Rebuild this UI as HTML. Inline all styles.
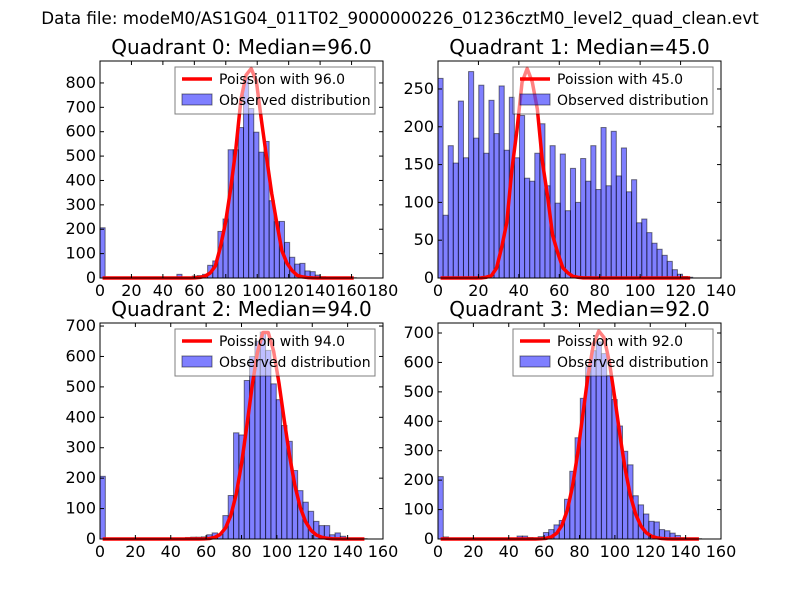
<!DOCTYPE html>
<html><head><meta charset="utf-8"><style>
body{margin:0;background:#fff;}
svg{display:block;font-family:"DejaVu Sans","Liberation Sans",sans-serif;}
</style></head><body>
<svg id="chart" width="800" height="600" viewBox="0 0 800 600">
<rect width="800" height="600" fill="#fff"/>
<text x="400" y="24" font-size="16.7" text-anchor="middle">Data file: modeM0/AS1G04_011T02_9000000226_01236cztM0_level2_quad_clean.evt</text>
</svg>
<script>
// ---- data ----
const quadrantNames = ["Quadrant 0: Median=96.0","Quadrant 1: Median=45.0","Quadrant 2: Median=94.0","Quadrant 3: Median=92.0"];
const medians = [96.0, 45.0, 94.0, 92.0];
const binWidths = [3.26, 2.52, 3.02, 2.98];
const poissonPeaks = [859, 277, 686, 707];
const q0Counts = [206,0,0,0,0,0,0,0,0,0,0,0,0,0,0,15,0,2,8,10,15,52,70,191,242,526,526,617,820,695,598,516,560,317,231,232,146,85,57,60,29,26,12,5,3,2,1,1,0,1];
const q1Counts = [264,83,175,152,234,159,273,185,255,165,235,191,254,169,239,159,215,132,128,165,204,122,175,99,164,89,145,100,158,128,175,117,199,122,194,135,172,114,130,73,78,60,46,38,30,22,11,5,2,1];
const q2Counts = [206,0,0,0,0,0,0,0,0,0,0,0,0,0,0,0,5,6,6,7,14,20,15,77,143,349,342,521,600,650,680,620,510,458,373,321,225,159,121,91,58,44,44,14,20,9,2,1,1,1];
const q3Counts = [212,7,0,0,0,0,0,0,0,0,0,0,0,0,0,10,10,5,4,8,22,32,48,63,135,230,344,478,585,640,670,630,556,474,384,298,252,147,116,85,60,58,32,28,20,12,4,2,1,1];
const xMax = [180, 140, 160, 160];
const yMax = [890, 287, 710, 734];
const xTickLabels = [[0,20,40,60,80,100,120,140,160,180],[0,20,40,60,80,100,120,140],[0,20,40,60,80,100,120,140,160],[0,20,40,60,80,100,120,140,160]];
const yTickLabels = [[0,100,200,300,400,500,600,700,800],[0,50,100,150,200,250],[0,100,200,300,400,500,600,700],[0,100,200,300,400,500,600,700]];
const allCounts = [q0Counts, q1Counts, q2Counts, q3Counts];
// ---- layout ----
const boxes = [{l:100,r:383,t:61,b:278},{l:438,r:721,t:61,b:278},{l:100,r:383,t:323,b:539},{l:438,r:721,t:323,b:539}];
const svg = document.getElementById('chart');
const NS = 'http://www.w3.org/2000/svg';
function mk(tag, attrs, parent){const e=document.createElementNS(NS,tag);for(const k in attrs)e.setAttribute(k,attrs[k]);(parent||svg).appendChild(e);return e;}
function lgamma(z){const c=[76.18009172947146,-86.50532032941677,24.01409824083091,-1.231739572450155,0.1208650973866179e-2,-0.5395239384953e-5];let x=z,y=z,tmp=x+5.5;tmp-=(x+0.5)*Math.log(tmp);let ser=1.000000000190015;for(let j=0;j<6;j++)ser+=c[j]/++y;return -tmp+Math.log(2.5066282746310005*ser/x);}
function pois(k,m){return Math.exp(k*Math.log(m)-m-lgamma(k+1));}

for(let q=0;q<4;q++){
  const B=boxes[q];
  const g=mk('g',{});
  
  
  const xs=v=>B.l+(v/xMax[q])*(B.r-B.l);
  const ys=v=>B.b-(v/yMax[q])*(B.b-B.t);
  const counts=allCounts[q], w=binWidths[q];
  counts.forEach((c,i)=>{
    if(c<=0)return;
    const x0=xs(i*w), x1=xs((i+1)*w);
    const r=mk('rect',{x:x0,y:ys(c),width:x1-x0,height:B.b-ys(c),fill:'rgba(0,0,255,0.5)',stroke:'rgba(0,0,0,0.5)','stroke-width':1},g);
    
    
  });
  const m=medians[q];
  const peakPmf=pois(Math.floor(m),m);
  let pts=[];
  for(let i=0;i<counts.length;i++){const k=(i+0.5)*w;pts.push(xs(k)+','+ys(pois(Math.round(k),m)/peakPmf*poissonPeaks[q]));}
  const pl=mk('polyline',{points:pts.join(' '),fill:'none',stroke:'#ff0000','stroke-width':3.5,'stroke-linejoin':'round'},g);
  
  
  const fr=mk('rect',{x:B.l,y:B.t,width:B.r-B.l,height:B.b-B.t,fill:'none',stroke:'#000','stroke-width':1},g);
  
  
  xTickLabels[q].forEach(v=>{
    const x=xs(v);
    mk('line',{x1:x,x2:x,y1:B.b,y2:B.b-4,stroke:'#000'},g);
    mk('line',{x1:x,x2:x,y1:B.t,y2:B.t+4,stroke:'#000'},g);
    const t=mk('text',{x:x,y:B.b+18,'font-size':16,'text-anchor':'middle'},g);
    t.textContent=v;
    
    
  });
  yTickLabels[q].forEach(v=>{
    const y=ys(v);
    mk('line',{x1:B.l,x2:B.l+4,y1:y,y2:y,stroke:'#000'},g);
    mk('line',{x1:B.r,x2:B.r-4,y1:y,y2:y,stroke:'#000'},g);
    const t=mk('text',{x:B.l-4,y:y+5,'font-size':16,'text-anchor':'end'},g);
    t.textContent=v;
    
    
  });
  const tt=mk('text',{x:(B.l+B.r)/2,y:B.t-7,'font-size':20,'text-anchor':'middle'},g);
  tt.textContent=quadrantNames[q];
  
  
  const lx=B.r-208, ly=B.t+6;
  const lg=mk('g',{},g);
  
  
  mk('rect',{x:lx,y:ly,width:200,height:47,fill:'rgba(255,255,255,0.5)',stroke:'rgba(0,0,0,0.5)','stroke-width':1},lg);
  mk('line',{x1:lx+7,x2:lx+37,y1:ly+12,y2:ly+12,stroke:'#ff0000','stroke-width':3.5},lg);
  const t1=mk('text',{x:lx+44,y:ly+17,'font-size':14},lg);
  t1.textContent='Poission with '+medians[q].toFixed(1);
  
  
  mk('rect',{x:lx+7,y:ly+27,width:30,height:11,fill:'rgba(0,0,255,0.5)',stroke:'rgba(0,0,0,0.5)'},lg);
  const t2=mk('text',{x:lx+44,y:ly+38,'font-size':14},lg);
  t2.textContent='Observed distribution';
  
  
}
</script>
</body></html>
